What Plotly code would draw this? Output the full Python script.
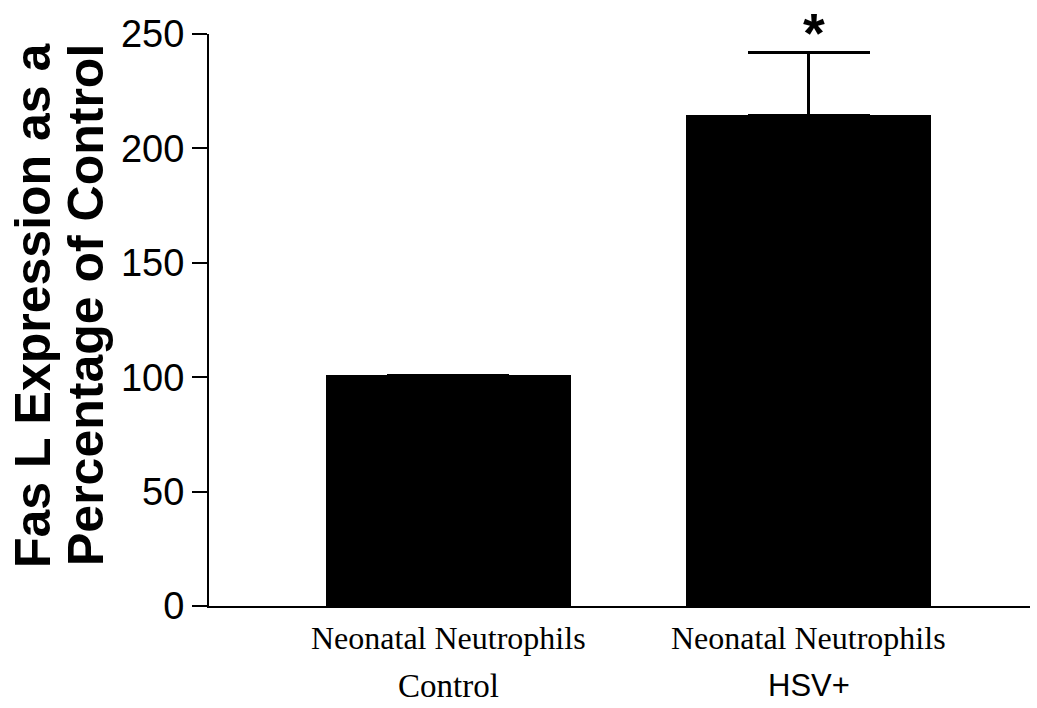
import plotly.graph_objects as go

categories = ["Control", "HSV+"]
line1_labels = ["Neonatal Neutrophils", "Neonatal Neutrophils"]
values = [101, 214.5]
err_plus = [0, 27.5]
y_ticks = [0, 50, 100, 150, 200, 250]
y_title = ["Fas L Expression as a", "Percentage of Control"]
star_label = "*"

x_idx = list(range(len(categories)))

fig = go.Figure()
fig.add_trace(go.Bar(
    x=x_idx, y=values, width=0.678,
    marker=dict(color="black", line=dict(width=0)),
    error_y=dict(type="data", array=err_plus, arrayminus=[0] * len(values),
                 symmetric=False, color="black", thickness=2.5, width=61),
    showlegend=False,
))

# category labels
for i, (l1, l2) in enumerate(zip(line1_labels, categories)):
    fig.add_annotation(x=i, y=0, xref="x", yref="paper", text=l1, showarrow=False,
                       yanchor="top", yshift=-12,
                       font=dict(family="Liberation Serif", size=32, color="black"))
    if l2 == "Control":
        fam, sz = "Liberation Serif", 33
    else:
        fam, sz = "Liberation Sans", 31
    fig.add_annotation(x=i, y=0, xref="x", yref="paper", text=l2, showarrow=False,
                       yanchor="top", yshift=-61, borderpad=0,
                       font=dict(family=fam, size=sz, color="black"))

# significance star
fig.add_annotation(x=1, y=values[1] + err_plus[1], xref="x", yref="y",
                   text="<b>%s</b>" % star_label,
                   showarrow=False, yanchor="bottom", xshift=5, yshift=-14,
                   font=dict(family="Liberation Sans", size=56, color="black"))

# y title, two lines
for k, (txt, xs) in enumerate(zip(y_title, [-176, -123])):
    fig.add_annotation(x=0, y=0.5, xref="paper", yref="paper", text="<b>%s</b>" % txt,
                       showarrow=False, textangle=-90, xanchor="center", yanchor="middle",
                       xshift=xs, yshift=15,
                       font=dict(family="Liberation Sans", size=50, color="black"))

fig.update_layout(
    width=1037, height=708,
    margin=dict(l=209, r=7, t=34, b=102),
    paper_bgcolor="white", plot_bgcolor="white",
    bargap=0,
)
fig.update_xaxes(range=[-0.665, 1.615], showticklabels=False, ticks="",
                 showline=True, linecolor="black", linewidth=2, showgrid=False,
                 zeroline=False)
fig.update_yaxes(range=[0, 250], tickvals=y_ticks, ticks="outside", ticklen=15,
                 tickwidth=2, tickcolor="black", showline=True, linecolor="black",
                 linewidth=2, showgrid=False, zeroline=False,
                 tickfont=dict(family="Liberation Sans", size=38, color="black"))

fig.write_html("out.html")
